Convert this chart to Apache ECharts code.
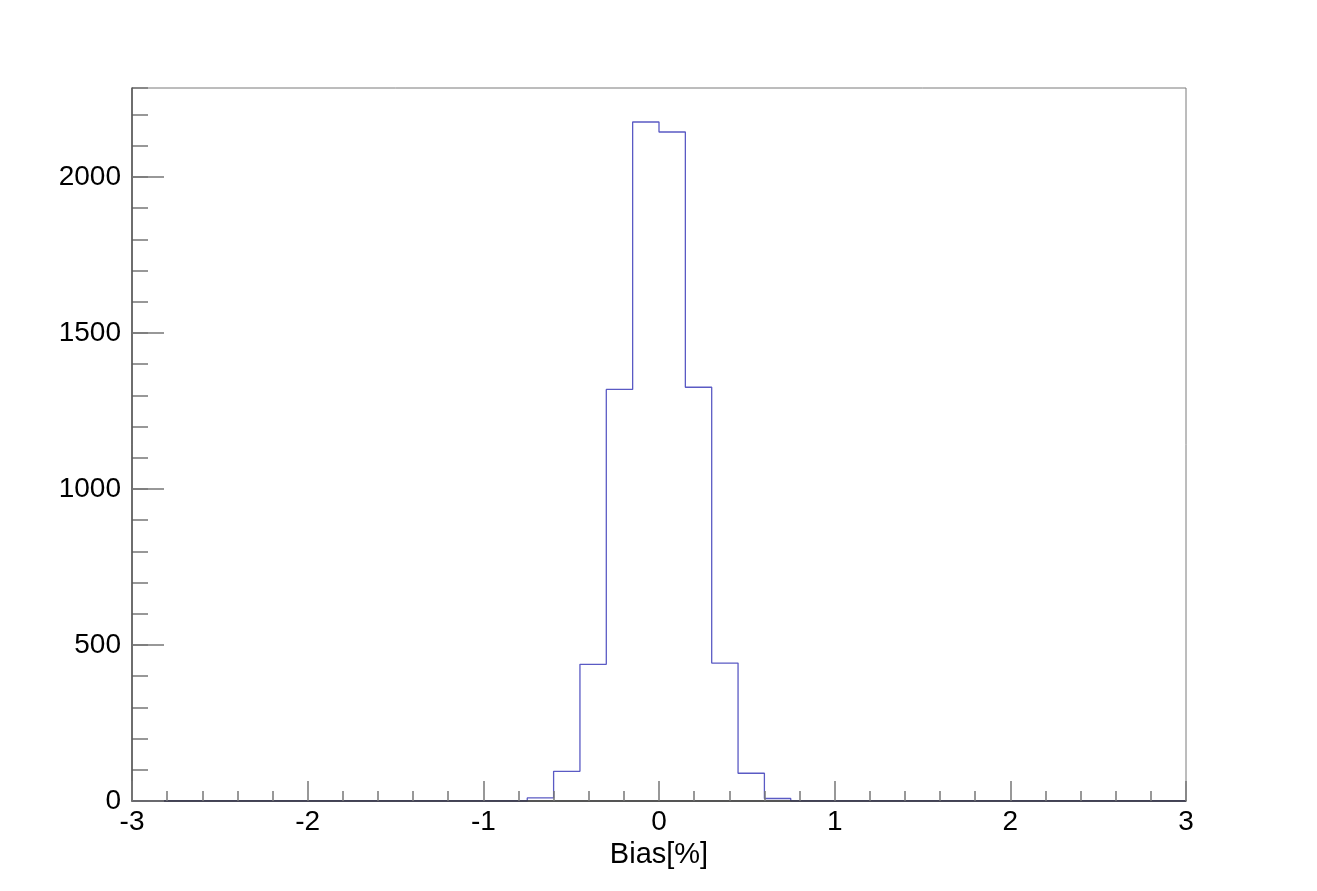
<!DOCTYPE html>
<html>
<head>
<meta charset="utf-8">
<script src="https://cdn.jsdelivr.net/npm/echarts@6/dist/echarts.min.js"></script>
<style>
  html, body { margin: 0; padding: 0; background: #ffffff; }
  #main { width: 1317px; height: 891px; }
</style>
</head>
<body>
<div id="main"></div>
<script>
// histogram: 40 bins of 0.15 from -3 to 3
var binLow = -3;
var binWidth = 0.15;
var counts = [
  0, 0, 0, 0, 0, 0, 0, 0, 0, 0,
  0, 0, 0, 0, 0, 10, 95, 438, 1319, 2176,
  2144, 1326, 442, 89, 8, 0, 0, 0, 0, 0,
  0, 0, 0, 0, 0, 0, 0, 0, 0, 0
];
var xTicks = [-3, -2, -1, 0, 1, 2, 3];
var yTicks = [0, 500, 1000, 1500, 2000];
var yMax = 2285;

// step points at the left edge of each bin, closing at the right edge
var steps = counts.map(function (c, i) {
  return [+(binLow + i * binWidth).toFixed(2), c];
});
steps.push([xTicks[xTicks.length - 1], 0]);

var font = 'Liberation Sans, Arial, Helvetica, sans-serif';
var chart = echarts.init(document.getElementById('main'), null, { renderer: 'canvas' });

chart.setOption({
  backgroundColor: '#ffffff',
  animation: false,
  grid: {
    left: 132, right: 131, top: 88, bottom: 90,
    show: true, borderColor: '#7a7a7a', borderWidth: 1, backgroundColor: 'transparent'
  },
  xAxis: {
    type: 'value',
    z: 3,
    min: xTicks[0],
    max: xTicks[xTicks.length - 1],
    interval: 1,
    name: 'Bias[%]',
    nameLocation: 'middle',
    nameGap: 36,
    nameTextStyle: { fontFamily: font, fontSize: 29, color: '#000' },
    axisLine: { show: true, onZero: false, lineStyle: { color: '#333', width: 1.5 } },
    axisTick: { show: true, inside: true, length: 20, lineStyle: { color: '#777', width: 1.5 } },
    minorTick: { show: true, splitNumber: 5, length: 10, lineStyle: { color: '#777', width: 1.5 } },
    splitLine: { show: false },
    axisLabel: { fontFamily: font, fontSize: 28, color: '#000', margin: 7 }
  },
  yAxis: [{
    type: 'value',
    z: 3,
    min: yTicks[0],
    max: yMax,
    interval: 500,
    axisLine: { show: true, onZero: false, lineStyle: { color: '#555', width: 1.5 } },
    axisTick: { show: true, inside: true, length: 32, lineStyle: { color: '#777', width: 1.5 } },
    splitLine: { show: false },
    axisLabel: {
      fontFamily: font, fontSize: 28, color: '#000', margin: 11, showMaxLabel: false,
      formatter: function (v) { return String(v); }
    }
  }, {
    type: 'value',
    position: 'left',
    min: yTicks[0],
    max: yMax,
    interval: 100,
    axisLine: { show: false, onZero: false },
    axisTick: { show: true, inside: true, length: 16, lineStyle: { color: '#777', width: 1.5 } },
    splitLine: { show: false },
    axisLabel: { show: false }
  }],
  series: [{
    type: 'line',
    step: 'end',
    data: steps,
    showSymbol: false,
    symbol: 'none',
    lineStyle: { color: '#5a5ac4', width: 1.3 },
    z: 2
  }]
});
</script>
</body>
</html>
